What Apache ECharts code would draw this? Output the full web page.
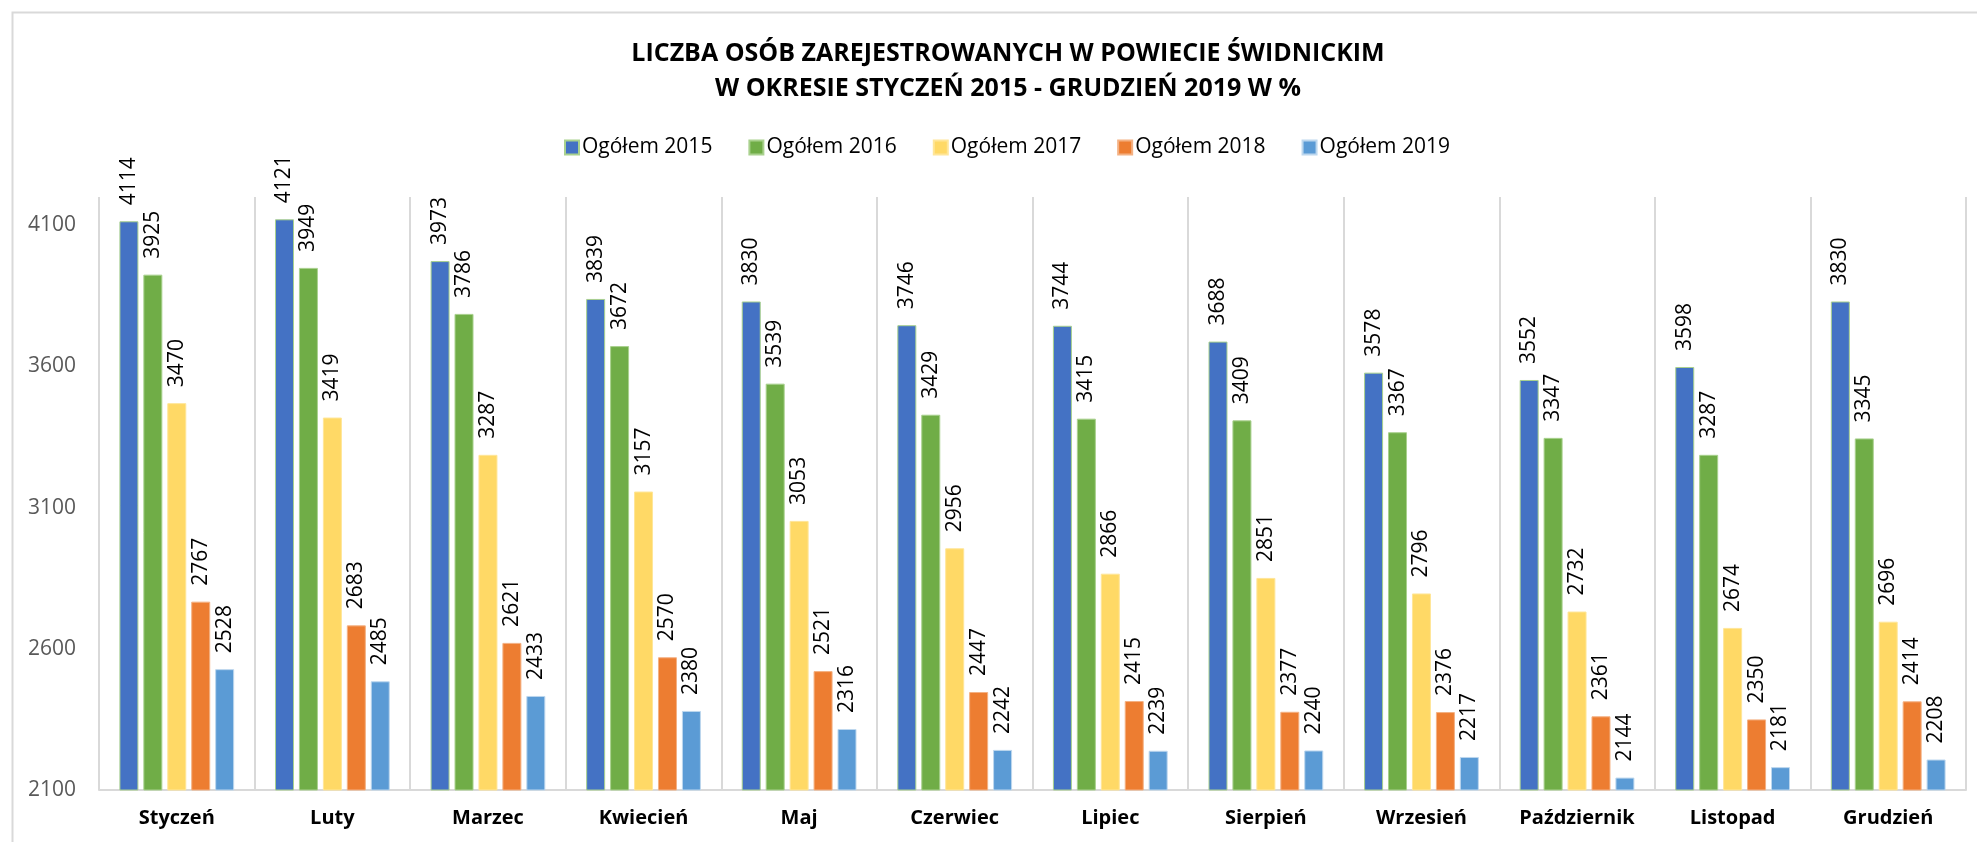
<!DOCTYPE html>
<html>
<head>
<meta charset="utf-8">
<title>Liczba osób zarejestrowanych</title>
<script src="https://cdn.jsdelivr.net/npm/echarts@6/dist/echarts.min.js"></script>
<style>
  html, body { margin: 0; padding: 0; background: #fff; }
  #chart { width: 1977px; height: 842px; }
</style>
</head>
<body>
<div id="chart"></div>
<script>
// miesiące
const months = ['Styczeń', 'Luty', 'Marzec', 'Kwiecień', 'Maj', 'Czerwiec', 'Lipiec', 'Sierpień', 'Wrzesień', 'Październik', 'Listopad', 'Grudzień']

// liczba zarejestrowanych, rok po roku
const y2015 = [4114, 4121, 3973, 3839, 3830, 3746, 3744, 3688, 3578, 3552, 3598, 3830]
const y2016 = [3925, 3949, 3786, 3672, 3539, 3429, 3415, 3409, 3367, 3347, 3287, 3345]
const y2017 = [3470, 3419, 3287, 3157, 3053, 2956, 2866, 2851, 2796, 2732, 2674, 2696]
const y2018 = [2767, 2683, 2621, 2570, 2521, 2447, 2415, 2377, 2376, 2361, 2350, 2414]
const y2019 = [2528, 2485, 2433, 2380, 2316, 2242, 2239, 2240, 2217, 2144, 2181, 2208]

const seriesNames = ['Ogółem 2015', 'Ogółem 2016', 'Ogółem 2017', 'Ogółem 2018', 'Ogółem 2019']
const seriesData = [y2015, y2016, y2017, y2018, y2019]
const colors = ['#4472C4', '#70AD47', '#FFD966', '#ED7D31', '#5B9BD5']
const borders = ['#A9D18E', '#A9D18E', '#FFE699', '#F4B183', '#BDD7EE']

const font = "'Open Sans', 'Noto Sans', sans-serif"

var myChart = echarts.init(document.getElementById('chart'))

var option = {
  animation: false,
  textStyle: { fontFamily: font },
  title: {
    text: 'LICZBA OSÓB ZAREJESTROWANYCH W POWIECIE ŚWIDNICKIM\nW OKRESIE STYCZEŃ 2015 - GRUDZIEŃ 2019 W %',
    left: 1003,
    top: 31,
    textAlign: 'center',
    textStyle: {
      fontFamily: font,
      fontSize: 25,
      fontWeight: 'bold',
      color: '#000',
      lineHeight: 35
    }
  },
  legend: {
    data: seriesNames,
    left: 559,
    top: 132,
    icon: 'rect',
    itemWidth: 14,
    itemHeight: 14,
    itemGap: 36,
    textStyle: {
      fontFamily: font,
      fontSize: 21,
      color: '#000',
      padding: [0, 0, 0, -2]
    }
  },
  graphic: [{
    type: 'rect',
    left: 10,
    top: 10,
    shape: { width: 2000, height: 900 },
    style: { fill: 'none', stroke: '#D9D9D9', lineWidth: 2 },
    silent: true
  }],
  grid: {
    left: 99,
    right: 11,
    top: 197,
    bottom: 52
  },
  xAxis: {
    type: 'category',
    data: months,
    axisTick: { show: false },
    axisLine: { show: true, lineStyle: { color: '#D9D9D9', width: 2 } },
    axisLabel: {
      interval: 0,
      margin: 18,
      fontFamily: font,
      fontSize: 20,
      fontWeight: 'bold',
      color: '#000'
    },
    splitLine: {
      show: true,
      interval: 0,
      lineStyle: { color: '#D9D9D9', width: 2 }
    }
  },
  yAxis: {
    type: 'value',
    min: 2100,
    max: 4200,
    interval: 500,
    axisLine: { show: false },
    axisTick: { show: false },
    splitLine: { show: false },
    axisLabel: {
      margin: 23,
      showMaxLabel: false,
      formatter: function (v) { return String(v) },
      fontFamily: font,
      fontSize: 21,
      color: '#595959'
    }
  },
  series: seriesNames.map(function (name, i) {
    return {
      name: name,
      type: 'bar',
      data: seriesData[i],
      barWidth: 19,
      barGap: '26%',
      itemStyle: {
        color: colors[i],
        borderColor: borders[i],
        borderWidth: 1
      },
      label: {
        show: true,
        position: 'top',
        rotate: 90,
        align: 'left',
        verticalAlign: 'middle',
        distance: 16,
        fontFamily: font,
        fontSize: 21,
        color: '#000'
      }
    }
  })
}

myChart.setOption(option)
</script>
</body>
</html>
